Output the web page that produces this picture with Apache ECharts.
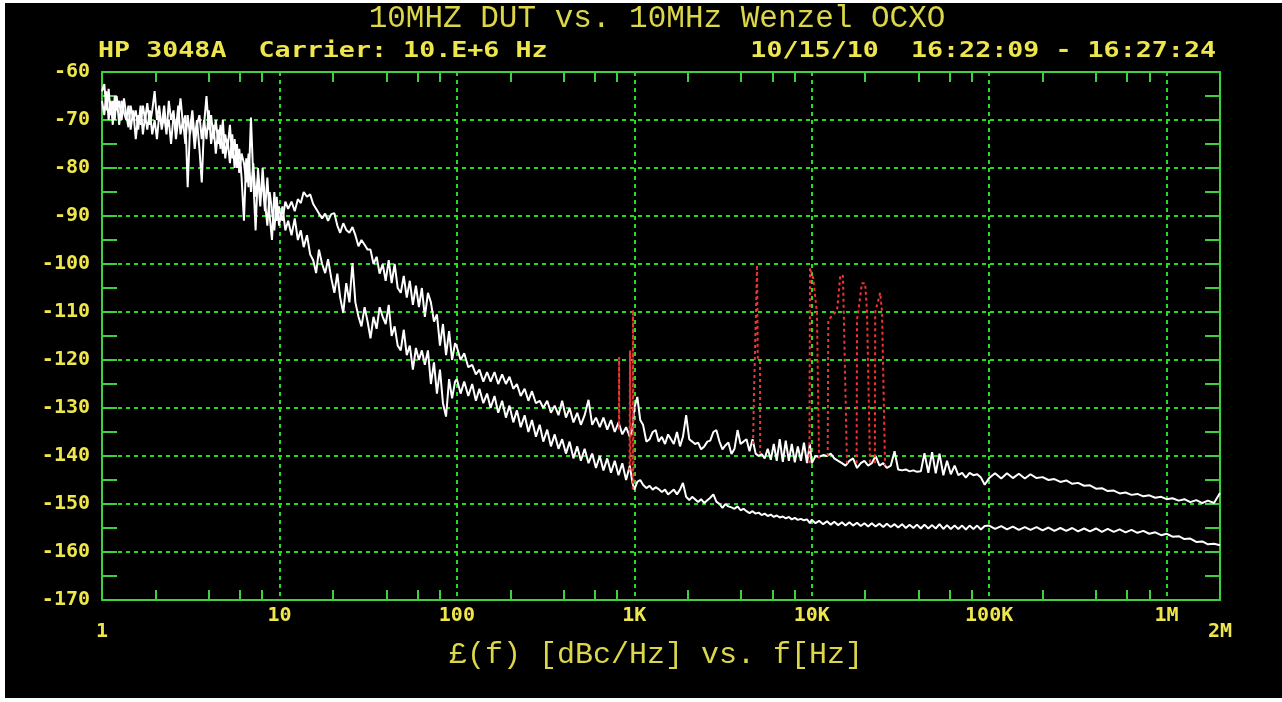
<!DOCTYPE html>
<html><head><meta charset="utf-8">
<script src="https://cdn.jsdelivr.net/npm/echarts@6/dist/echarts.min.js"></script>
<style>
html,body{margin:0;padding:0;background:#fff;width:1282px;height:702px;overflow:hidden;}
#bg{position:absolute;left:5px;top:3px;width:1277px;height:695px;background:#000;}
#chart{position:absolute;left:0;top:0;width:1282px;height:702px;}
</style></head><body>
<div id="bg"></div><div id="chart"></div>
<script>
// ---- data ----
const freqHz = [
 1.00,1.03,1.06,1.09,1.12,1.15,1.18,1.21,1.25,1.29,
 1.33,1.37,1.41,1.45,1.5,1.55,1.6,1.65,1.7,1.75,
 1.8,1.86,1.92,1.98,2.04,2.1,2.17,2.24,2.31,2.38,
 2.45,2.53,2.61,2.69,2.77,2.86,2.95,3.04,3.13,3.23,
 3.33,3.43,3.54,3.65,3.76,3.88,4.0,4.12,4.25,4.38,
 4.52,4.66,4.8,4.95,5.1,5.26,5.42,5.59,5.76,5.94,
 6.12,6.31,6.5,6.7,6.91,7.12,7.34,7.57,7.8,8.04,
 8.29,8.55,8.81,9.08,9.36,9.65,9.95,
 10,10.4,10.8,11.2,11.7,12.2,12.7,13.2,13.7,14.3,
 14.9,15.5,16.1,16.7,17.4,18.1,18.8,19.6,20.4,21.2,
 22,22.9,23.8,24.8,25.8,26.8,27.9,29,30.2,31.4,
 32.6,33.9,35.3,36.7,38.2,39.7,41.3,42.9,44.6,46.4,
 48.3,50.2,52.2,54.3,56.5,58.8,61.1,63.5,66,68.7,
 71.4,74.3,77.2,80.3,83.5,86.9,90.4,94,97.7,
 100,105,110,116,122,128,134,141,148,155,
 163,171,180,189,198,208,218,229,241,253,
 265,279,293,307,323,339,356,374,392,412,
 432,454,477,500,525,552,579,608,639,670,
 704,739,776,815,856,899,944,975,1000,
 1040,1080,1120,1170,1220,1270,1320,1370,1430,1490,
 1550,1610,1670,1740,1810,1880,1960,2040,2120,2200,
 2290,2380,2480,2580,2680,2790,2900,3020,3140,3260,
 3390,3530,3670,3820,3970,4130,4290,4460,4640,4830,
 5020,5220,5430,5650,5880,6110,6350,6600,6870,7140,
 7430,7720,8030,8350,8690,9040,9400,9770,
 10000,10500,11000,11600,12200,12800,13400,14100,14800,15500,
 16300,17100,18000,18900,19800,20800,21800,22900,24100,25300,
 26500,27900,29300,30700,32300,33900,35600,37400,39200,41200,
 43200,45400,47700,50000,52500,55200,57900,60800,63900,67000,
 70400,73900,77600,81500,85600,89900,94400,
 100000,108000,117000,126000,136000,147000,159000,171000,185000,200000,
 216000,233000,252000,272000,294000,317000,343000,370000,400000,432000,
 466000,504000,544000,587000,634000,685000,740000,799000,863000,932000,
 1000000,1080000,1170000,1260000,1360000,1470000,1590000,1710000,1850000,2000000
];
const upperTraceDb = [
 -64,-62.5,-68,-63.5,-69,-66,-70,-65,-71,-66,
 -68.5,-70,-67,-72,-68,-74,-69,-71,-67,-70,
 -66.5,-71,-68,-64,-70,-67,-72,-69,-73,-66,
 -70,-68,-74,-70,-65.5,-71,-69,-84,-72,-68,
 -74,-70,-76,-83,-71,-65,-72,-69,-74,-70,
 -75,-71,-77,-73,-76,-71,-78,-74,-80,-76,
 -82,-91,-78,-84,-69.5,-82,-93,-80,-86,-83,
 -89,-82,-90,-95,-85,-91,-88,
 -89,-91,-87,-88.5,-87,-89,-86.5,-87.3,-85,-86,
 -85.5,-87.5,-88.5,-89.5,-90.5,-89.5,-91,-89.6,-89.4,-92,
 -93.5,-91.5,-92.9,-93.5,-92.3,-94,-96.3,-95,-96,-97,
 -97,-100,-98.5,-102,-100,-103.5,-99.2,-104,-100,-105,
 -106,-102.5,-107,-103.5,-108.5,-104.5,-109,-105,-111,-106,
 -108,-112,-110.5,-117,-112.5,-119,-114,-120,-116.5,
 -117.3,-120,-118.6,-121.5,-121,-123,-122,-124.5,-122.5,-124.5,
 -122.5,-125,-123,-125,-123.5,-126,-125,-127.5,-126,-128.5,
 -126.5,-129,-128.5,-130,-128.5,-131,-129.5,-131.5,-128.5,-132,
 -130,-133,-131,-133.5,-131.5,-128.3,-133.5,-132,-134,-132,
 -134.5,-132.5,-135,-133,-135.5,-134,-136,-134.5,-130,
 -127.7,-132.5,-133.5,-137,-136.5,-135,-134.6,-137,-136,-137.5,
 -135.5,-136.5,-137.5,-135,-138,-136,-131.5,-136.5,-137,-137.5,
 -137.2,-138.6,-138,-137,-136.8,-135,-134.6,-137,-138.6,-137.8,
 -137.2,-139.6,-138.5,-134.6,-137.5,-137,-136.5,-139,-136.5,-139.5,
 -140,-139.6,-140.5,-138.5,-140.8,-137.5,-141,-136.5,-141.2,-136.8,
 -141,-137.5,-141.3,-138,-141,-137.2,-141.5,-137.5,
 -141.5,-140,-140.2,-139.8,-140,-139.5,-140.5,-141,-141.5,-142,
 -141,-140.5,-142.5,-141.5,-141,-142,-141.5,-140,-142,-141.5,
 -142.5,-142,-139,-142.8,-143,-142.8,-143.2,-143,-143.3,-143.2,
 -139.4,-143.5,-139.2,-143.6,-139.5,-144,-141,-143.8,-142,-144,
 -143.5,-144.5,-143.5,-144,-143.8,-144.5,-146,
 -144.6,-143.6,-144.7,-143.6,-144.6,-143.7,-144.7,-143.8,-144.6,-144.4,
 -145,-144.8,-145.4,-145.1,-145.8,-145.6,-146.2,-146.1,-146.8,-146.7,
 -147.3,-147.2,-147.8,-147.6,-148.1,-147.9,-148.4,-148.2,-148.7,-148.5,
 -149,-148.8,-149.3,-149,-149.6,-149.2,-149.8,-149.3,-149.8,-147.7
];
const lowerTraceDb = [
 -66,-69,-64,-70,-66,-71,-65,-68,-66,-70,
 -65.5,-69,-71.5,-67,-70,-68,-72,-67,-73,-69,
 -72,-68,-73,-70,-74,-69,-71,-67,-72,-70,
 -75,-69,-72,-67,-73,-70,-75,-69,-73,-70,
 -76,-71,-69,-74,-70,-74,-68,-75,-71,-77,
 -72,-76,-70,-78,-74,-79,-73,-80,-75,-81,
 -77,-79,-83,-77,-85,-79,-86,-82,-88,-80,
 -87,-92,-85,-89,-93,-86,-92,
 -92,-88,-93,-91,-94,-90.5,-95,-93,-96.5,-94,
 -98,-99.2,-101.9,-97,-100,-101.9,-99,-103,-106,-102,
 -107,-110.2,-104,-108,-99.8,-108,-111,-113,-109,-112,
 -115.5,-111,-113.5,-109,-111,-112.5,-108.5,-115,-113,-117,
 -118,-113.7,-119,-117,-122,-117.5,-120,-118,-121,-118,
 -125,-120.5,-127,-122,-129,-131.8,-124,-128,-124.5,
 -124,-127,-124.5,-127.5,-125,-128.5,-126,-129,-127,-130,
 -127.5,-131,-128.5,-132,-129.5,-133,-130.5,-134,-131.5,-135,
 -132.5,-136,-133.5,-137,-134.5,-138,-135.5,-138.5,-136.5,-139.5,
 -137,-140.5,-138,-141,-138.5,-141.5,-139.5,-142.5,-140,-143,
 -140.5,-143.5,-141,-144,-141.5,-145,-142,-145.5,-147,
 -145.4,-145,-146,-146.7,-146.2,-147,-146.5,-146.9,-147.5,-147,
 -148,-147.5,-147,-148,-147,-145.6,-148.5,-149.2,-148.5,-149,
 -149.6,-149,-149.8,-149.2,-148.7,-148,-149.5,-150,-150.8,-150,
 -150.5,-150.7,-151,-150.5,-151.3,-151,-151.5,-151.9,-151.5,-152,
 -151.8,-152.3,-152,-152.5,-152.2,-152.7,-152.4,-152.8,-152.6,-153,
 -152.7,-153.2,-152.9,-153.3,-153.1,-153.4,-153.2,-154,
 -153.3,-154,-153.5,-154.2,-153.6,-154.3,-153.7,-154.4,-153.8,-154.5,
 -153.8,-154.5,-153.9,-154.6,-154,-154.7,-154,-154.7,-154.1,-154.8,
 -154.1,-154.8,-154.2,-154.9,-154.2,-155,-154.3,-155,-154.3,-155.1,
 -154.3,-155.1,-154.4,-155.1,-154.2,-155.2,-154.4,-155.2,-154.5,-155.2,
 -154.5,-155.3,-154.5,-155.2,-154.5,-155.3,-154.6,
 -154.5,-155.2,-154.6,-155.3,-154.7,-155.4,-154.8,-155.4,-154.8,-155.5,
 -154.9,-155.6,-155,-155.6,-155,-155.7,-155.1,-155.7,-155.1,-155.8,
 -155.2,-155.8,-155.3,-155.9,-155.4,-156,-155.6,-156.2,-155.9,-156.5,
 -156.2,-156.8,-156.7,-157.3,-157.2,-157.9,-157.8,-158.4,-158.3,-158.6
];
// spurs (red dotted); null separates spur groups
const spurFreqHz = [819,821,823, null, 940,946,952, null, 980,984,990, null,
  4670,4720,4920,4960,5110,5120, null,
  9700,9780,10200,10700,11000, null,
  12300,12400,13900,14500,15000,15800, null,
  17900,18000,19200,20000,20500,21300, null,
  22700,22800,24300,24900,25900];
const spurDb = [-134.5,-119.4,-134, null, -143,-118,-142, null, -147,-109.6,-146, null,
  -137.5,-128,-100.2,-119.5,-120,-139.5, null,
  -141.5,-100.8,-103,-110.2,-140.5, null,
  -140,-111.7,-109.6,-102.3,-102.5,-141.5, null,
  -141.5,-111.7,-104,-104,-110,-141.5, null,
  -141.5,-110,-106,-110,-142];

const xMajorLabelValues = [10,100,1000,10000,100000,1000000];
const xMajorLabelTexts  = ['10','100','1K','10K','100K','1M'];
const xEndLabelValues = [1,2000000];
const xEndLabelTexts  = ['1','2M'];
const xMinorTickValues = [2,4,6,8,20,40,60,80,200,400,600,800,2000,4000,6000,8000,
  20000,40000,60000,80000,200000,400000,600000,800000];
const yMin = -170, yMax = -60, yStep = 10;

const titleText   = '10MHZ DUT vs. 10MHz Wenzel OCXO';
const headerLeft  = 'HP 3048A  Carrier: 10.E+6 Hz';
const headerRight = '10/15/10  16:22:09 - 16:27:24';
const xAxisTitle  = '£(f) [dBc/Hz] vs. f[Hz]';

// ---- styling ----
const axisGreen = '#3fd03f', gridGreen = '#22dd22';
const textYellow = '#eee64c', titleYellow = '#dcd64a';
const mono = '"DejaVu Sans Mono", monospace';
const thinMono = '"Liberation Mono", "DejaVu Sans Mono", monospace';

function lookup(vals, texts) {
  return function (v) {
    for (let i = 0; i < vals.length; i++) if (Math.abs(vals[i] - v) / vals[i] < 1e-4) return texts[i];
    return '';
  };
}
const labelStyle = { color: textYellow, fontFamily: mono, fontWeight: 'bold', fontSize: 20 };

const spurSeries = [];
let seg = [];
for (let i = 0; i <= spurFreqHz.length; i++) {
  if (i === spurFreqHz.length || spurFreqHz[i] === null) {
    if (seg.length) spurSeries.push({
      type: 'line', xAxisIndex: 0, yAxisIndex: 0, data: seg, symbol: 'none', showSymbol: false,
      lineStyle: { color: '#ee3434', width: 2, type: [3, 3] }, z: 5, silent: true
    });
    seg = [];
  } else seg.push([spurFreqHz[i], spurDb[i]]);
}

const chart = echarts.init(document.getElementById('chart'), null, { renderer: 'canvas' });
chart.setOption({
  animation: false,
  backgroundColor: 'transparent',
  grid: { left: 102, right: 62, top: 72, bottom: 102, containLabel: false },
  xAxis: [
    { type: 'log', logBase: 10, min: 1, max: 2000000, position: 'bottom',
      axisLine: { show: true, onZero: false, lineStyle: { color: axisGreen, width: 2 } },
      axisTick: { show: true, inside: true, length: 10, customValues: xMinorTickValues, lineStyle: { color: axisGreen, width: 2 } },
      axisLabel: Object.assign({ show: true, customValues: xMajorLabelValues, margin: 6,
        formatter: lookup(xMajorLabelValues, xMajorLabelTexts) }, labelStyle),
      splitLine: { show: false },
      name: xAxisTitle, nameLocation: 'middle', nameGap: 40,
      nameTextStyle: { color: titleYellow, fontFamily: thinMono, fontSize: 30, fontWeight: 'normal', padding: [0, 10, 0, 0] } },
    { type: 'log', logBase: 10, min: 1, max: 2000000, position: 'top',
      axisLine: { show: true, onZero: false, lineStyle: { color: axisGreen, width: 2 } },
      axisTick: { show: true, inside: true, length: 10, customValues: xMinorTickValues, lineStyle: { color: axisGreen, width: 2 } },
      axisLabel: { show: false }, splitLine: { show: false } },
    { type: 'log', logBase: 10, min: 1, max: 2000000, position: 'bottom',
      axisLine: { show: false }, axisTick: { show: false },
      axisLabel: Object.assign({ show: true, customValues: xEndLabelValues, margin: 22,
        formatter: lookup(xEndLabelValues, xEndLabelTexts) }, labelStyle),
      splitLine: { show: true, lineStyle: { color: gridGreen, width: 2, type: [4, 4] } } }
  ],
  yAxis: [
    { type: 'value', min: yMin, max: yMax, interval: yStep, position: 'left',
      axisLine: { show: true, onZero: false, lineStyle: { color: axisGreen, width: 2 } },
      axisTick: { show: true, inside: true, length: 15, lineStyle: { color: axisGreen, width: 2 } },
      minorTick: { show: true, splitNumber: 2, length: 15, lineStyle: { color: axisGreen, width: 2 } },
      axisLabel: Object.assign({ margin: 12 }, labelStyle),
      splitLine: { show: true, lineStyle: { color: gridGreen, width: 2, type: [4, 4] } } },
    { type: 'value', min: yMin, max: yMax, interval: yStep, position: 'right',
      axisLine: { show: true, onZero: false, lineStyle: { color: axisGreen, width: 2 } },
      axisTick: { show: true, inside: true, length: 15, lineStyle: { color: axisGreen, width: 2 } },
      minorTick: { show: true, splitNumber: 2, length: 15, lineStyle: { color: axisGreen, width: 2 } },
      axisLabel: { show: false }, splitLine: { show: false } }
  ],
  graphic: [
    { type: 'text', x: 657, y: 19, silent: true,
      style: { text: titleText, fill: titleYellow, font: '31px ' + thinMono, align: 'center', verticalAlign: 'middle', textAlign: 'center', textVerticalAlign: 'middle' } },
    { type: 'text', x: 98, y: 52, scaleX: 1.27, silent: true,
      style: { text: headerLeft, fill: textYellow, font: 'bold 21px ' + mono, align: 'left', verticalAlign: 'middle', textAlign: 'left', textVerticalAlign: 'middle' } },
    { type: 'text', x: 1216, y: 52, scaleX: 1.27, silent: true,
      style: { text: headerRight, fill: textYellow, font: 'bold 21px ' + mono, align: 'right', verticalAlign: 'middle', textAlign: 'right', textVerticalAlign: 'middle' } }
  ],
  series: [
    { type: 'line', name: 'upper', xAxisIndex: 0, yAxisIndex: 0, symbol: 'none', showSymbol: false, silent: true,
      data: freqHz.map((f, i) => [f, upperTraceDb[i]]), lineStyle: { color: '#ffffff', width: 2 }, z: 3 },
    { type: 'line', name: 'lower', xAxisIndex: 0, yAxisIndex: 0, symbol: 'none', showSymbol: false, silent: true,
      data: freqHz.map((f, i) => [f, lowerTraceDb[i]]), lineStyle: { color: '#ffffff', width: 2 }, z: 3 }
  ].concat(spurSeries)
});
</script>
</body></html>
